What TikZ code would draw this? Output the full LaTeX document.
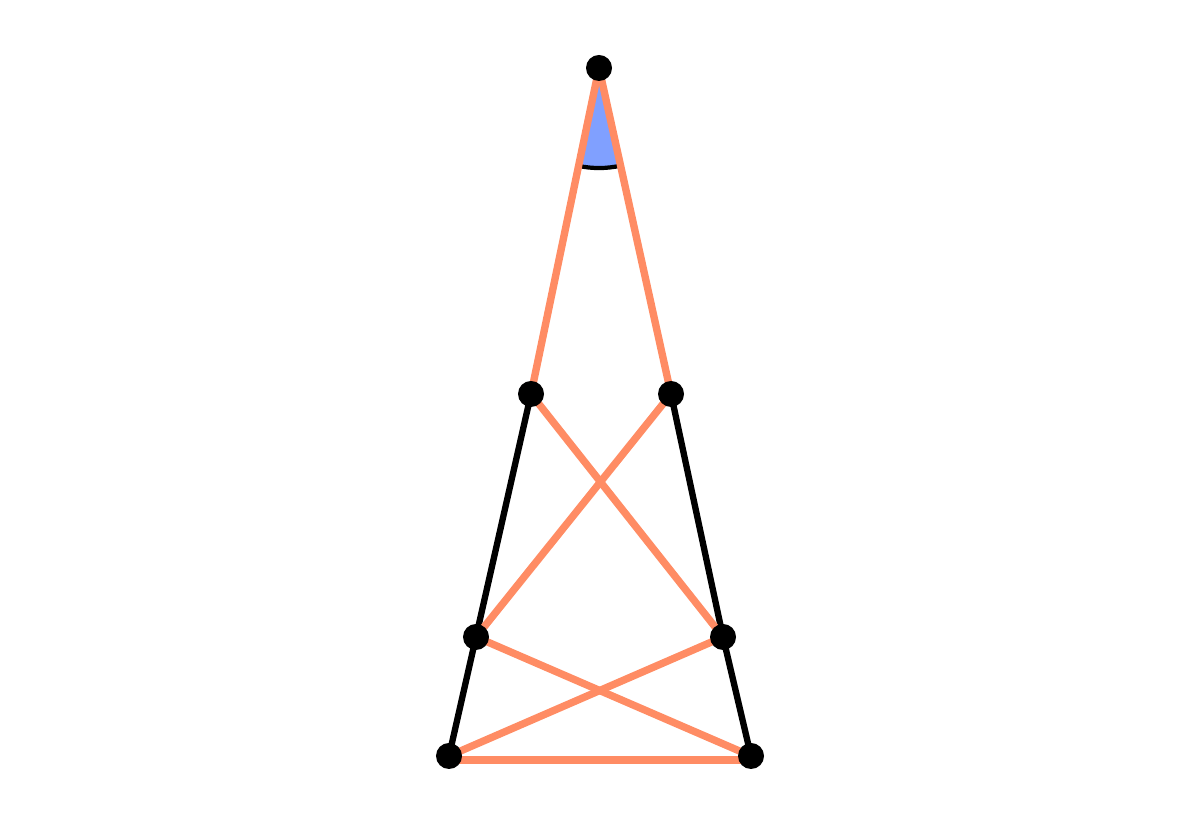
\documentclass[tikz,border=0pt]{standalone}
\definecolor{edgeorange}{RGB}{255,140,100}
\definecolor{wedgeblue}{RGB}{128,160,255}
\tikzset{
  orangeedge/.style={draw=edgeorange, line width=2.1pt},
  blackedge/.style={draw=black, line width=1.8pt},
  dot/.style={circle, fill=black, inner sep=0pt, minimum size=0.26cm},
}
\begin{document}
\begin{tikzpicture}[x=0.01cm, y=0.01cm]
\useasboundingbox (0,0) rectangle (1200,816);
\coordinate (A) at (599,748);
\coordinate (LU) at (531,422);
\coordinate (RU) at (671,422);
\coordinate (LM) at (476,179);
\coordinate (RM) at (723,179);
\coordinate (BL) at (449,60);
\coordinate (BR) at (751,60);
% angle wedge
\fill[wedgeblue] (A) -- ++(-101.75:1cm) arc[start angle=-101.75, end angle=-77.6, radius=1cm] -- cycle;
\draw[line width=1.2pt] (A) ++(-101.75:1cm) arc[start angle=-101.75, end angle=-77.6, radius=1cm];
% black edges
\draw[blackedge] (LU) -- (LM);
\draw[blackedge] (LM) -- (BL);
\draw[blackedge] (RU) -- (RM);
\draw[blackedge] (RM) -- (BR);
% orange edges
\draw[orangeedge] (A) -- (LU);
\draw[orangeedge] (A) -- (RU);
\draw[orangeedge] (LU) -- (RM);
\draw[orangeedge] (RU) -- (LM);
\draw[orangeedge] (LM) -- (BR);
\draw[orangeedge] (RM) -- (BL);
\draw[orangeedge] ([yshift=-0.04cm]BL) -- ([yshift=-0.04cm]BR);
% dots
\node[dot] (nA) at (A) {};
\node[dot] (nLU) at (LU) {};
\node[dot] (nRU) at (RU) {};
\node[dot] (nLM) at (LM) {};
\node[dot] (nRM) at (RM) {};
\node[dot] (nBL) at (BL) {};
\node[dot] (nBR) at (BR) {};
\end{tikzpicture}
\end{document}
